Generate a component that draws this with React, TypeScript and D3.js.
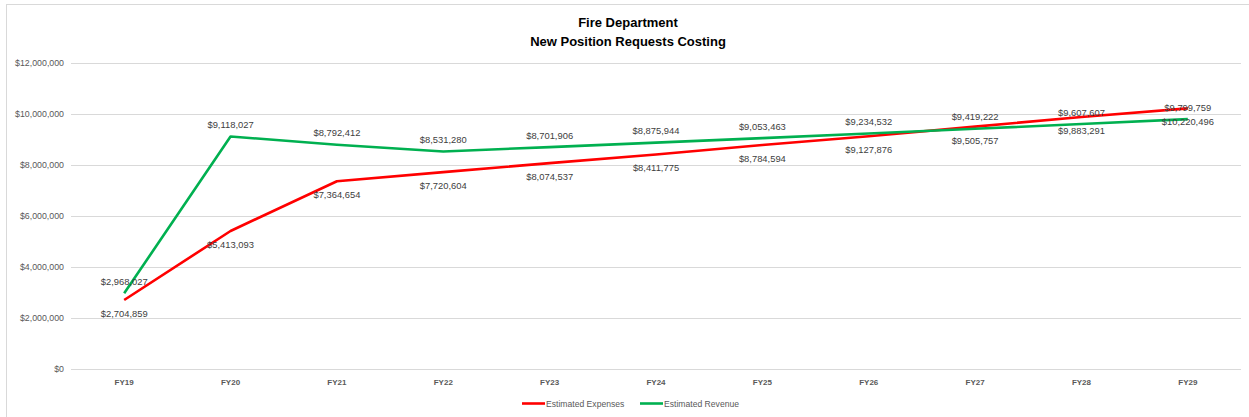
import React from "react";
import * as d3 from "d3";

const categories = ["FY19", "FY20", "FY21", "FY22", "FY23", "FY24", "FY25", "FY26", "FY27", "FY28", "FY29"];
const expenses = [2704859, 5413093, 7364654, 7720604, 8074537, 8411775, 8784594, 9127876, 9505757, 9883291, 10220496];
const revenue = [2968027, 9118027, 8792412, 8531280, 8701906, 8875944, 9053463, 9234532, 9419222, 9607607, 9799759];
const yTicks = [0, 2000000, 4000000, 6000000, 8000000, 10000000, 12000000];
const titleLines = ["Fire Department", "New Position Requests Costing"];
const seriesNames = ["Estimated Expenses", "Estimated Revenue"];

const W = 1249;
const H = 417;
const FONT = "'Liberation Sans', Arial, sans-serif";
const RED = "#FF0000";
const GREEN = "#00B050";

export default function App() {
  const x = d3.scaleBand<string>().domain(categories).range([71, 1241]);
  const cx = (c: string) => (x(c) ?? 0) + x.bandwidth() / 2;
  const y = d3.scaleLinear().domain([0, 12000000]).range([369, 63]);
  const fmt = (v: number) => "$" + d3.format(",")(v);

  const line = d3
    .line<number>()
    .x((_, i) => cx(categories[i]))
    .y((d) => y(d));

  const series = [
    { name: seriesNames[0], values: expenses, color: RED, above: false },
    { name: seriesNames[1], values: revenue, color: GREEN, above: true },
  ];

  return (
    <div style={{ position: "absolute", left: 0, top: 0 }}>
      <svg width={W} height={H} style={{ display: "block", background: "#fff" }}>
        <rect x={6.5} y={4.5} width={W} height={H} fill="#fff" stroke="#d9d9d9" strokeWidth={1} />
        {titleLines.map((t, i) => (
          <text
            key={t}
            x={628}
            y={27 + i * 19}
            textAnchor="middle"
            fontFamily={FONT}
            fontWeight="bold"
            fontSize={13}
            fill="#000"
          >
            {t}
          </text>
        ))}
        {yTicks.map((t) => (
          <g key={t}>
            <line x1={71} x2={1241} y1={Math.round(y(t)) + 0.5} y2={Math.round(y(t)) + 0.5} stroke="#d9d9d9" strokeWidth={1} />
            <text
              x={64}
              y={y(t) + 3}
              textAnchor="end"
              fontFamily={FONT}
              fontSize={8.8}
              fill="#595959"
            >
              {fmt(t)}
            </text>
          </g>
        ))}
        {categories.map((c) => (
          <text
            key={c}
            x={cx(c)}
            y={385}
            textAnchor="middle"
            fontFamily={FONT}
            fontWeight="bold"
            fontSize={8}
            fill="#595959"
          >
            {c}
          </text>
        ))}
        {series.map((s) => (
          <path
            key={s.name}
            d={line(s.values) ?? ""}
            fill="none"
            stroke={s.color}
            strokeWidth={2.6}
            strokeLinejoin="round"
          />
        ))}
        {series.map((s) =>
          s.values.map((v, i) => (
            <text
              key={s.name + i}
              x={cx(categories[i])}
              y={s.above ? y(v) - 8.5 : y(v) + 17}
              textAnchor="middle"
              fontFamily={FONT}
              fontSize={9.4}
              fill="#404040"
            >
              {fmt(v)}
            </text>
          ))
        )}
        {series.map((s, i) => {
          const lx = 522 + i * 118;
          return (
            <g key={s.name}>
              <line x1={lx} x2={lx + 23} y1={403.5} y2={403.5} stroke={s.color} strokeWidth={2.6} />
              <text x={lx + 24} y={406.5} fontFamily={FONT} fontSize={8.6} fill="#595959">
                {s.name}
              </text>
            </g>
          );
        })}
      </svg>
    </div>
  );
}
